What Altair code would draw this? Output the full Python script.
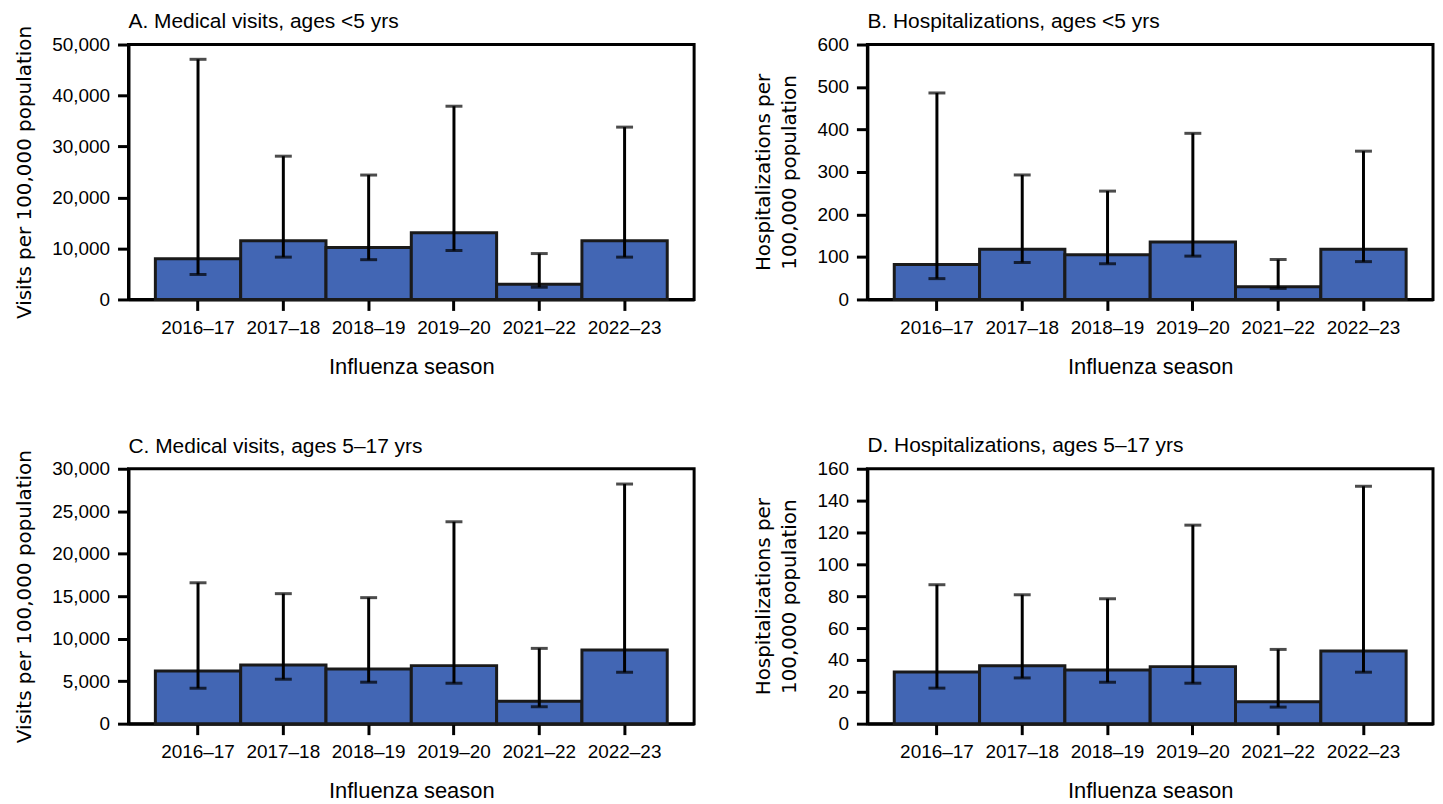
import altair as alt
import pandas as pd

seasons = ["2016–17", "2017–18", "2018–19", "2019–20", "2021–22", "2022–23"]

# A. Medical visits, ages <5 yrs
a_rate = [8000, 11500, 10200, 13100, 3000, 11500]
a_low = [4900, 8300, 7800, 9600, 2400, 8300]
a_high = [47100, 28100, 24400, 37900, 9000, 33800]

# B. Hospitalizations, ages <5 yrs
b_rate = [82, 118, 105, 135, 30, 118]
b_low = [49, 87, 84, 102, 26, 89]
b_high = [486, 293, 255, 391, 94, 349]

# C. Medical visits, ages 5–17 yrs
c_rate = [6200, 6900, 6440, 6830, 2650, 8660]
c_low = [4170, 5230, 4880, 4760, 1990, 6050]
c_high = [16580, 15300, 14830, 23760, 8860, 28200]

# D. Hospitalizations, ages 5–17 yrs
d_rate = [32.5, 36.4, 33.7, 35.8, 13.7, 45.6]
d_low = [22.3, 28.7, 26.0, 25.4, 10.4, 32.3]
d_high = [87.2, 80.9, 78.4, 124.6, 46.6, 149.0]

BAR_COLOR = "#4266B4"
LABEL_FONT = "Liberation Sans"
YTITLE_FONT = "DejaVu Sans"


def panel(title, ytitle, rate, low, high, ymax, step, fmt, tpad, toff):
    df = pd.DataFrame({"season": seasons, "rate": rate, "low": low, "high": high})
    xscale = alt.Scale(paddingInner=0, paddingOuter=0.315)
    yscale = alt.Scale(domain=[0, ymax], nice=False)
    xaxis = alt.Axis(
        title="Influenza season",
        labelAngle=0,
        labelPadding=8,
        titlePadding=19,
        titleFontSize=22,
        titleFont=LABEL_FONT,
        titleFontWeight="normal",
    )
    yaxis = alt.Axis(
        title=ytitle,
        values=list(range(0, ymax + step, step)),
        format=fmt,
        labelOverlap=False,
        labelPadding=8,
        titlePadding=tpad,
        titleFont=YTITLE_FONT,
        titleFontSize=20,
        titleFontWeight="normal",
        titleLineHeight=27,
    )
    x = alt.X("season:N", sort=seasons, scale=xscale, axis=xaxis)
    base = alt.Chart(df)
    bars = base.mark_bar(
        color=BAR_COLOR, stroke="#1a1a1a", strokeWidth=3
    ).encode(
        x=x,
        y=alt.Y("rate:Q", scale=yscale, axis=yaxis),
    )
    rule = base.mark_rule(color="black", strokeWidth=3).encode(
        x=x,
        y=alt.Y("low:Q", scale=yscale, axis=yaxis),
        y2="high:Q",
    )
    cap_hi = base.mark_tick(color="black", thickness=3, size=17).encode(
        x=x, y=alt.Y("high:Q", scale=yscale, axis=yaxis)
    )
    cap_lo = base.mark_tick(color="black", thickness=3, size=17).encode(
        x=x, y=alt.Y("low:Q", scale=yscale, axis=yaxis)
    )
    return alt.layer(bars, rule, cap_hi, cap_lo).properties(
        width=568,
        height=256,
        title=alt.TitleParams(
            text=title,
            anchor="start",
            frame="group",
            fontSize=21,
            font=LABEL_FONT,
            fontWeight="normal",
            offset=toff,
        ),
    )


pa = panel("A. Medical visits, ages <5 yrs", "Visits per 100,000 population",
           a_rate, a_low, a_high, 50000, 10000, ",d", 17, -7)
pb = panel("B. Hospitalizations, ages <5 yrs",
           ["Hospitalizations per", "100,000 population"],
           b_rate, b_low, b_high, 600, 100, "d", 17, 3.5)
pc = panel("C. Medical visits, ages 5–17 yrs", "Visits per 100,000 population",
           c_rate, c_low, c_high, 30000, 5000, ",d", 17, -7)
pd_ = panel("D. Hospitalizations, ages 5–17 yrs",
            ["Hospitalizations per", "100,000 population"],
            d_rate, d_low, d_high, 160, 20, "d", 17, 3.5)

chart = alt.vconcat(
    alt.hconcat(pa, pb, spacing=55),
    alt.hconcat(pc, pd_, spacing=55),
    spacing=55,
).properties(
    padding={"left": 5, "top": 0, "right": 0, "bottom": 0}
).configure_view(
    stroke="black", strokeWidth=3
).configure_axis(
    grid=False,
    domainColor="black",
    domainWidth=3,
    tickColor="black",
    tickWidth=3,
    tickSize=11,
    labelFont=LABEL_FONT,
    labelFontSize=19,
    labelColor="black",
    titleColor="black",
).configure_title(
    color="black"
)

chart.save("out.html", embed_options={"renderer": "svg", "actions": False})
